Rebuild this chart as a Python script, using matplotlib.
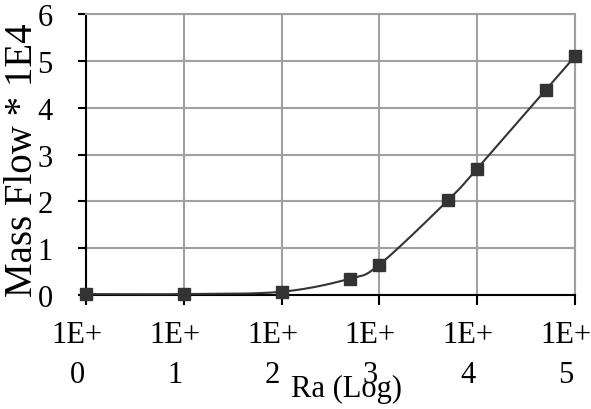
import numpy as np
import matplotlib
matplotlib.use("Agg")
from matplotlib import pyplot as plt
import matplotlib.transforms as mtransforms

# data
ra = [1, 10, 100, 500, 1000, 5000, 10000, 50000, 100000]
mass_flow = [0.02, 0.02, 0.07, 0.35, 0.65, 2.02, 2.70, 4.38, 5.10]
x_tick_labels = ["1E+\n0", "1E+\n1", "1E+\n2", "1E+\n3", "1E+\n4", "1E+\n5"]
y_ticks = [0, 1, 2, 3, 4, 5, 6]

DARK = "#333333"
GRID = "#a0a0a0"


def smooth_curve(xs, ys, n=30):
    """Catmull-Rom style smoothing in log-x space (like Excel's smoothed line)."""
    lx = np.log10(xs)
    ys = np.asarray(ys, dtype=float)
    px = np.concatenate([[2 * lx[0] - lx[1]], lx, [2 * lx[-1] - lx[-2]]])
    py = np.concatenate([[2 * ys[0] - ys[1]], ys, [2 * ys[-1] - ys[-2]]])
    out_x, out_y = [], []
    t = np.linspace(0, 1, n)
    for i in range(1, len(px) - 2):
        p0, p1, p2, p3 = px[i - 1], px[i], px[i + 1], px[i + 2]
        q0, q1, q2, q3 = py[i - 1], py[i], py[i + 1], py[i + 2]
        # cubic bezier control points
        c1x, c2x = p1 + (p2 - p0) / 6, p2 - (p3 - p1) / 6
        c1y, c2y = q1 + (q2 - q0) / 6, q2 - (q3 - q1) / 6
        bx = (1 - t) ** 3 * p1 + 3 * (1 - t) ** 2 * t * c1x + 3 * (1 - t) * t ** 2 * c2x + t ** 3 * p2
        by = (1 - t) ** 3 * q1 + 3 * (1 - t) ** 2 * t * c1y + 3 * (1 - t) * t ** 2 * c2y + t ** 3 * q2
        out_x.extend(bx)
        out_y.extend(by)
    return 10 ** np.array(out_x), np.array(out_y)


plt.rcParams["font.family"] = ["Liberation Serif", "DejaVu Serif"]

fig = plt.figure(figsize=(5.91, 4.10), dpi=100)
ax = fig.add_axes([0.1455, 0.278, 0.8275, 0.685])

sx, sy = smooth_curve(ra, mass_flow)
ax.plot(sx, sy, color=DARK, lw=1.5, zorder=3, clip_on=False)
ax.plot(ra, mass_flow, ls="none", marker="s", ms=9, color=DARK, zorder=4,
        clip_on=False)

ax.set_xscale("log")
ax.set_xlim(1, 100000)
ax.set_ylim(0, 6)
ax.set_xticks([10 ** i for i in range(6)])
ax.set_xticks([], minor=True)
ax.set_xticklabels(x_tick_labels, fontsize=22, linespacing=1.52)
ax.set_yticks(y_ticks)
ax.set_yticklabels([str(v) for v in y_ticks], fontsize=22)

ax.grid(True, color=GRID, lw=1.5)
ax.set_axisbelow(True)
for side in ["top", "right"]:
    ax.spines[side].set_color(GRID)
    ax.spines[side].set_linewidth(1.5)
for side in ["left", "bottom"]:
    ax.spines[side].set_color("black")
    ax.spines[side].set_linewidth(1.5)

ax.tick_params(axis="y", which="major", length=6, width=1.5, pad=18)
ax.tick_params(axis="x", which="major", length=7, width=1.5, pad=11)

# shift x tick labels a touch left as in the reference
offset = mtransforms.ScaledTranslation(-9 / 100, 0, fig.dpi_scale_trans)
for lbl in ax.get_xticklabels():
    lbl.set_transform(lbl.get_transform() + offset)

ax.set_ylabel("Mass Flow * 1E4", fontsize=28)
ax.yaxis.set_label_coords(-0.092, 0.484)
ax.set_xlabel("Ra (Log)", fontsize=22)
ax.xaxis.set_label_coords(0.533, -0.281)

fig.savefig("out.png", dpi=100)
